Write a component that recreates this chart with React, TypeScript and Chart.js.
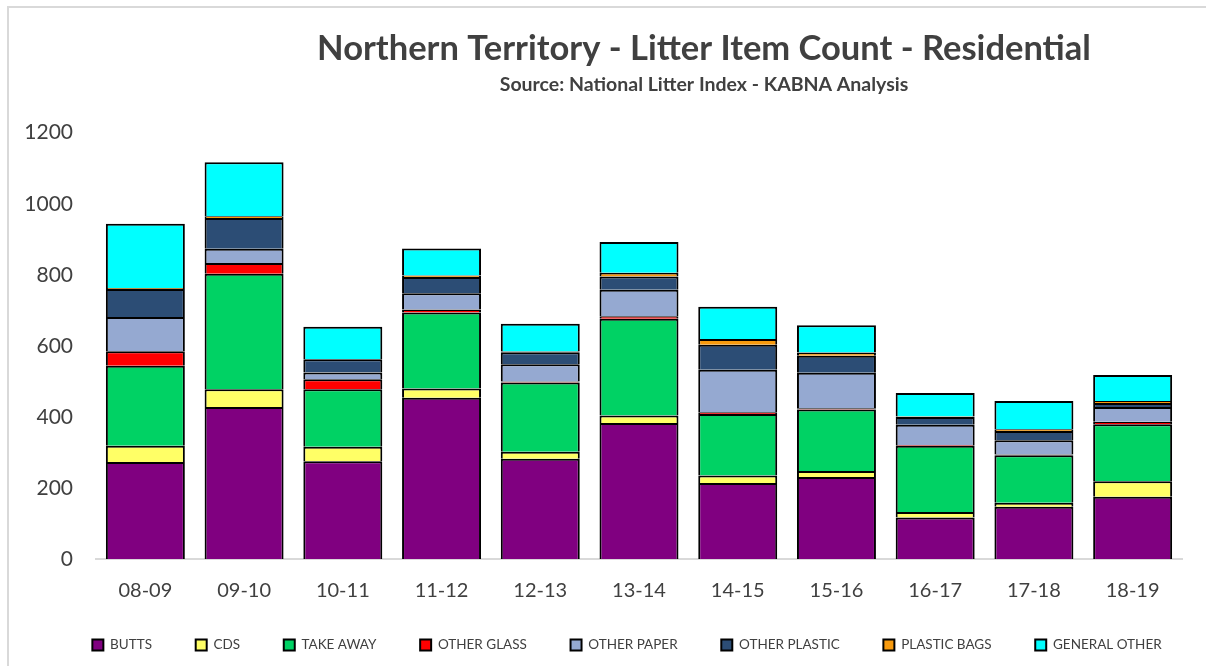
import React, { useEffect, useRef } from "react";
import { Chart, registerables } from "chart.js";

Chart.register(...registerables);

const TITLE = "Northern Territory - Litter Item Count - Residential";
const SUBTITLE = "Source: National Litter Index - KABNA Analysis";

const categories = ["08-09", "09-10", "10-11", "11-12", "12-13", "13-14", "14-15", "15-16", "16-17", "17-18", "18-19"];

const butts = [273, 428, 275, 454, 282, 383, 214, 231, 117, 147, 175];
const cds = [46, 50, 41, 26, 20, 21, 21, 17, 15, 11, 44];
const takeAway = [225, 325, 162, 214, 195, 272, 173, 173, 187, 134, 160];
const otherGlass = [41, 30, 28, 8, 3, 7, 5, 3, 2, 2, 7];
const otherPaper = [96, 40, 19, 46, 48, 75, 120, 100, 57, 40, 42];
const otherPlastic = [79, 87, 37, 46, 34, 37, 70, 48, 22, 26, 11];
const plasticBags = [3, 5, 0, 4, 2, 11, 16, 9, 1, 5, 6];
const generalOther = [181, 152, 92, 76, 78, 86, 91, 77, 66, 80, 73];

const yTicks = [0, 200, 400, 600, 800, 1000, 1200];

const seriesNames = ["BUTTS", "CDS", "TAKE AWAY", "OTHER GLASS", "OTHER PAPER", "OTHER PLASTIC", "PLASTIC BAGS", "GENERAL OTHER"];
const seriesValues = [butts, cds, takeAway, otherGlass, otherPaper, otherPlastic, plasticBags, generalOther];
const seriesColors = ["#800080", "#FFFF66", "#00D264", "#FF0000", "#95A9D1", "#2C4D75", "#F79A0E", "#00FFFF"];

const FONT = "Lato";
const TEXT_DARK = "#404040";
const TEXT_AXIS = "#404040";

const TITLE_DX = 113;
const LEGEND_DX = 36;
const LEGEND_DY = -4.3;

const positionPlugin = {
  id: "positionBoxes",
  afterLayout(chart: any) {
    chart.boxes.forEach((box: any) => {
      const text = box.options && box.options.text;
      if (box === chart.legend) {
        box.left += LEGEND_DX;
        box.right += LEGEND_DX;
        box.top += LEGEND_DY;
        box.bottom += LEGEND_DY;
      } else if (text === TITLE || text === SUBTITLE) {
        box.left += TITLE_DX;
        box.right += TITLE_DX;
      }
    });
  },
};

export default function App() {
  const ref = useRef<HTMLCanvasElement | null>(null);

  useEffect(() => {
    if (!ref.current) return;
    const chart = new Chart(ref.current, {
      type: "bar",
      data: {
        labels: categories,
        datasets: seriesNames.map((name, i) => ({
          label: name,
          data: seriesValues[i],
          backgroundColor: seriesColors[i],
          borderColor: "#000000",
          borderWidth: 2,
          categoryPercentage: 0.8,
          barPercentage: 1.0,
        })),
      },
      options: {
        animation: false,
        responsive: false,
        devicePixelRatio: 1,
        layout: { padding: { top: 0, left: 0, right: 24, bottom: 0 } },
        plugins: {
          title: {
            display: true,
            text: TITLE,
            color: TEXT_DARK,
            font: { family: FONT, size: 34.5, weight: "bold", lineHeight: 1.2 },
            padding: { top: 28.3, bottom: 0 },
          },
          subtitle: {
            display: true,
            text: SUBTITLE,
            color: TEXT_DARK,
            font: { family: FONT, size: 19.5, weight: "bold", lineHeight: 1.2 },
            padding: { top: 3.6, bottom: 36 },
          },
          legend: {
            display: true,
            position: "bottom",
            labels: {
              color: TEXT_AXIS,
              font: { family: FONT, size: 13.5 },
              boxWidth: 11,
              boxHeight: 11,
              padding: 43.7,
            },
          },
          tooltip: { enabled: false },
        },
        scales: {
          x: {
            stacked: true,
            grid: { display: false, drawTicks: false },
            border: { display: true, color: "#D9D9D9", width: 2 },
            ticks: {
              color: TEXT_AXIS,
              font: { family: FONT, size: 20 },
              padding: 20,
            },
            afterFit(scale: any) {
              scale.height = 39.8;
            },
          },
          y: {
            stacked: true,
            min: 0,
            max: 1200,
            grid: { display: false, drawTicks: false },
            border: { display: false },
            ticks: {
              stepSize: 200,
              color: TEXT_AXIS,
              font: { family: FONT, size: 21 },
              padding: 23,
              callback: (v: any) => (yTicks.includes(Number(v)) ? String(v) : ""),
            },
            afterFit(scale: any) {
              scale.width = 96;
            },
          },
        },
      },
      plugins: [positionPlugin],
    });
    return () => chart.destroy();
  }, []);

  return (
    <div style={{ position: "absolute", left: 0, top: 0, width: 1206, height: 666, overflow: "hidden", background: "#fff" }}>
      <div
        style={{
          position: "absolute",
          left: 7,
          top: 6,
          width: 1400,
          height: 900,
          border: "2px solid #D9D9D9",
          boxSizing: "border-box",
        }}
      />
      <canvas ref={ref} width={1206} height={666} style={{ position: "absolute", left: 0, top: 0, width: 1206, height: 666 }} />
    </div>
  );
}
